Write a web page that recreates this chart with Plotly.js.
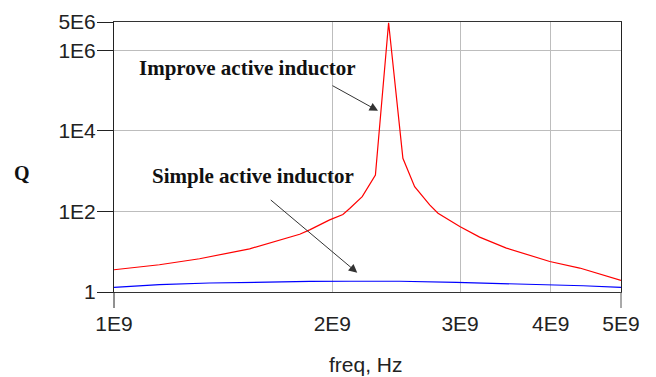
<!DOCTYPE html>
<html>
<head>
<meta charset="utf-8">
<script src="https://cdn.plot.ly/plotly-3.0.1.min.js"></script>
<style>
html,body{margin:0;padding:0;background:#fff;}
#chart{width:656px;height:377px;}
</style>
</head>
<body>
<div id="chart"></div>
<script>
// Improved active inductor (red)
const improveFreq = [1.0e9, 1.155e9, 1.312e9, 1.538e9, 1.803e9, 1.861e9, 1.983e9, 2.068e9, 2.113e9, 2.199e9, 2.293e9, 2.391e9, 2.502e9, 2.597e9, 2.724e9, 2.797e9, 2.997e9, 3.192e9, 3.475e9, 3.988e9, 4.386e9, 5.0e9];
const improveQ    = [3.56, 4.74, 6.67, 11.8, 27, 34.8, 61.6, 84, 118, 232, 800, 4.8e6, 2075, 411, 145, 90, 42, 23, 12.3, 5.7, 3.93, 1.95];
// Simple active inductor (blue)
const simpleFreq = [1.0e9, 1.155e9, 1.354e9, 1.587e9, 1.861e9, 2.113e9, 2.476e9, 2.965e9, 3.438e9, 4.052e9, 4.433e9, 5.0e9];
const simpleQ    = [1.30, 1.52, 1.67, 1.77, 1.83, 1.85, 1.85, 1.73, 1.63, 1.52, 1.43, 1.30];
// Tick labels
const xTickVals = [1e9, 2e9, 3e9, 4e9, 5e9];
const xTickText = ['1E9', '2E9', '3E9', '4E9', '5E9'];
const yTickVals = [1, 1e2, 1e4, 1e6, 5e6];
const yTickText = ['1', '1E2', '1E4', '1E6', '5E6'];

const traces = [
  {x: improveFreq, y: improveQ, type: 'scatter', mode: 'lines',
   line: {color: '#ff0000', width: 1.2}, hoverinfo: 'skip'},
  {x: simpleFreq, y: simpleQ, type: 'scatter', mode: 'lines',
   line: {color: '#0000ff', width: 1.2}, hoverinfo: 'skip'}
];

const serif = 'Liberation Serif, Times New Roman, serif';
const sans = 'Liberation Sans, Arial, sans-serif';

const layout = {
  width: 656, height: 377,
  margin: {l: 114, r: 35, t: 22, b: 85},
  paper_bgcolor: '#ffffff', plot_bgcolor: '#ffffff',
  showlegend: false,
  xaxis: {
    type: 'log', range: [9, Math.log10(5e9)],
    tickvals: xTickVals, ticktext: xTickText,
    ticks: 'outside', ticklen: 13, tickcolor: 'rgba(0,0,0,0)',
    tickfont: {family: sans, size: 21, color: '#222'},
    showgrid: true, gridcolor: '#bdbdbd', gridwidth: 1,
    showline: true, linecolor: '#333', linewidth: 1, mirror: true,
    zeroline: false
  },
  yaxis: {
    type: 'log', range: [0, Math.log10(5e6)],
    tickvals: yTickVals, ticktext: yTickText,
    ticks: 'outside', ticklen: 16, tickcolor: '#222',
    ticklabelstandoff: -3,
    tickfont: {family: sans, size: 21, color: '#222'},
    showgrid: true, gridcolor: '#bdbdbd', gridwidth: 1,
    showline: true, linecolor: '#222', linewidth: 1, mirror: true,
    zeroline: false
  },
  shapes: [
    {type: 'line', xref: 'paper', yref: 'paper', x0: 0, x1: 0, y0: 0, y1: -16/270,
     line: {color: '#222', width: 1}},
    {type: 'line', xref: 'paper', yref: 'paper', x0: 1, x1: 1, y0: 0, y1: -16/270,
     line: {color: '#555', width: 1}}
  ],
  annotations: [
    {text: '<b>Improve active inductor</b>', xref: 'paper', yref: 'paper',
     x: 0.263, y: 0.83, xanchor: 'center', yanchor: 'middle', showarrow: false,
     font: {family: serif, size: 21, color: '#111'}},
    {text: '<b>Simple active inductor</b>', xref: 'paper', yref: 'paper',
     x: 0.274, y: 0.43, xanchor: 'center', yanchor: 'middle', showarrow: false,
     font: {family: serif, size: 21, color: '#111'}},
    {text: '<b>Q</b>', xref: 'paper', yref: 'paper',
     x: -0.181, y: 0.441, xanchor: 'center', yanchor: 'middle', showarrow: false,
     font: {family: serif, size: 20, color: '#111'}},
    {text: 'freq, Hz', xref: 'paper', yref: 'paper',
     x: 0.497, y: -0.27, xanchor: 'center', yanchor: 'middle', showarrow: false,
     font: {family: sans, size: 21, color: '#222'}},
    {text: '', xref: 'x', yref: 'y', x: Math.log10(2.312e9), y: 4.495,
     ax: -47, ay: -26, showarrow: true, arrowhead: 2, arrowsize: 1.7,
     arrowwidth: 1, arrowcolor: '#333'},
    {text: '', xref: 'x', yref: 'y', x: 9.3354, y: 0.478,
     ax: -88, ay: -74, showarrow: true, arrowhead: 2, arrowsize: 1.7,
     arrowwidth: 1, arrowcolor: '#333'}
  ]
};

Plotly.newPlot('chart', traces, layout, {displayModeBar: false, staticPlot: true});
</script>
</body>
</html>
